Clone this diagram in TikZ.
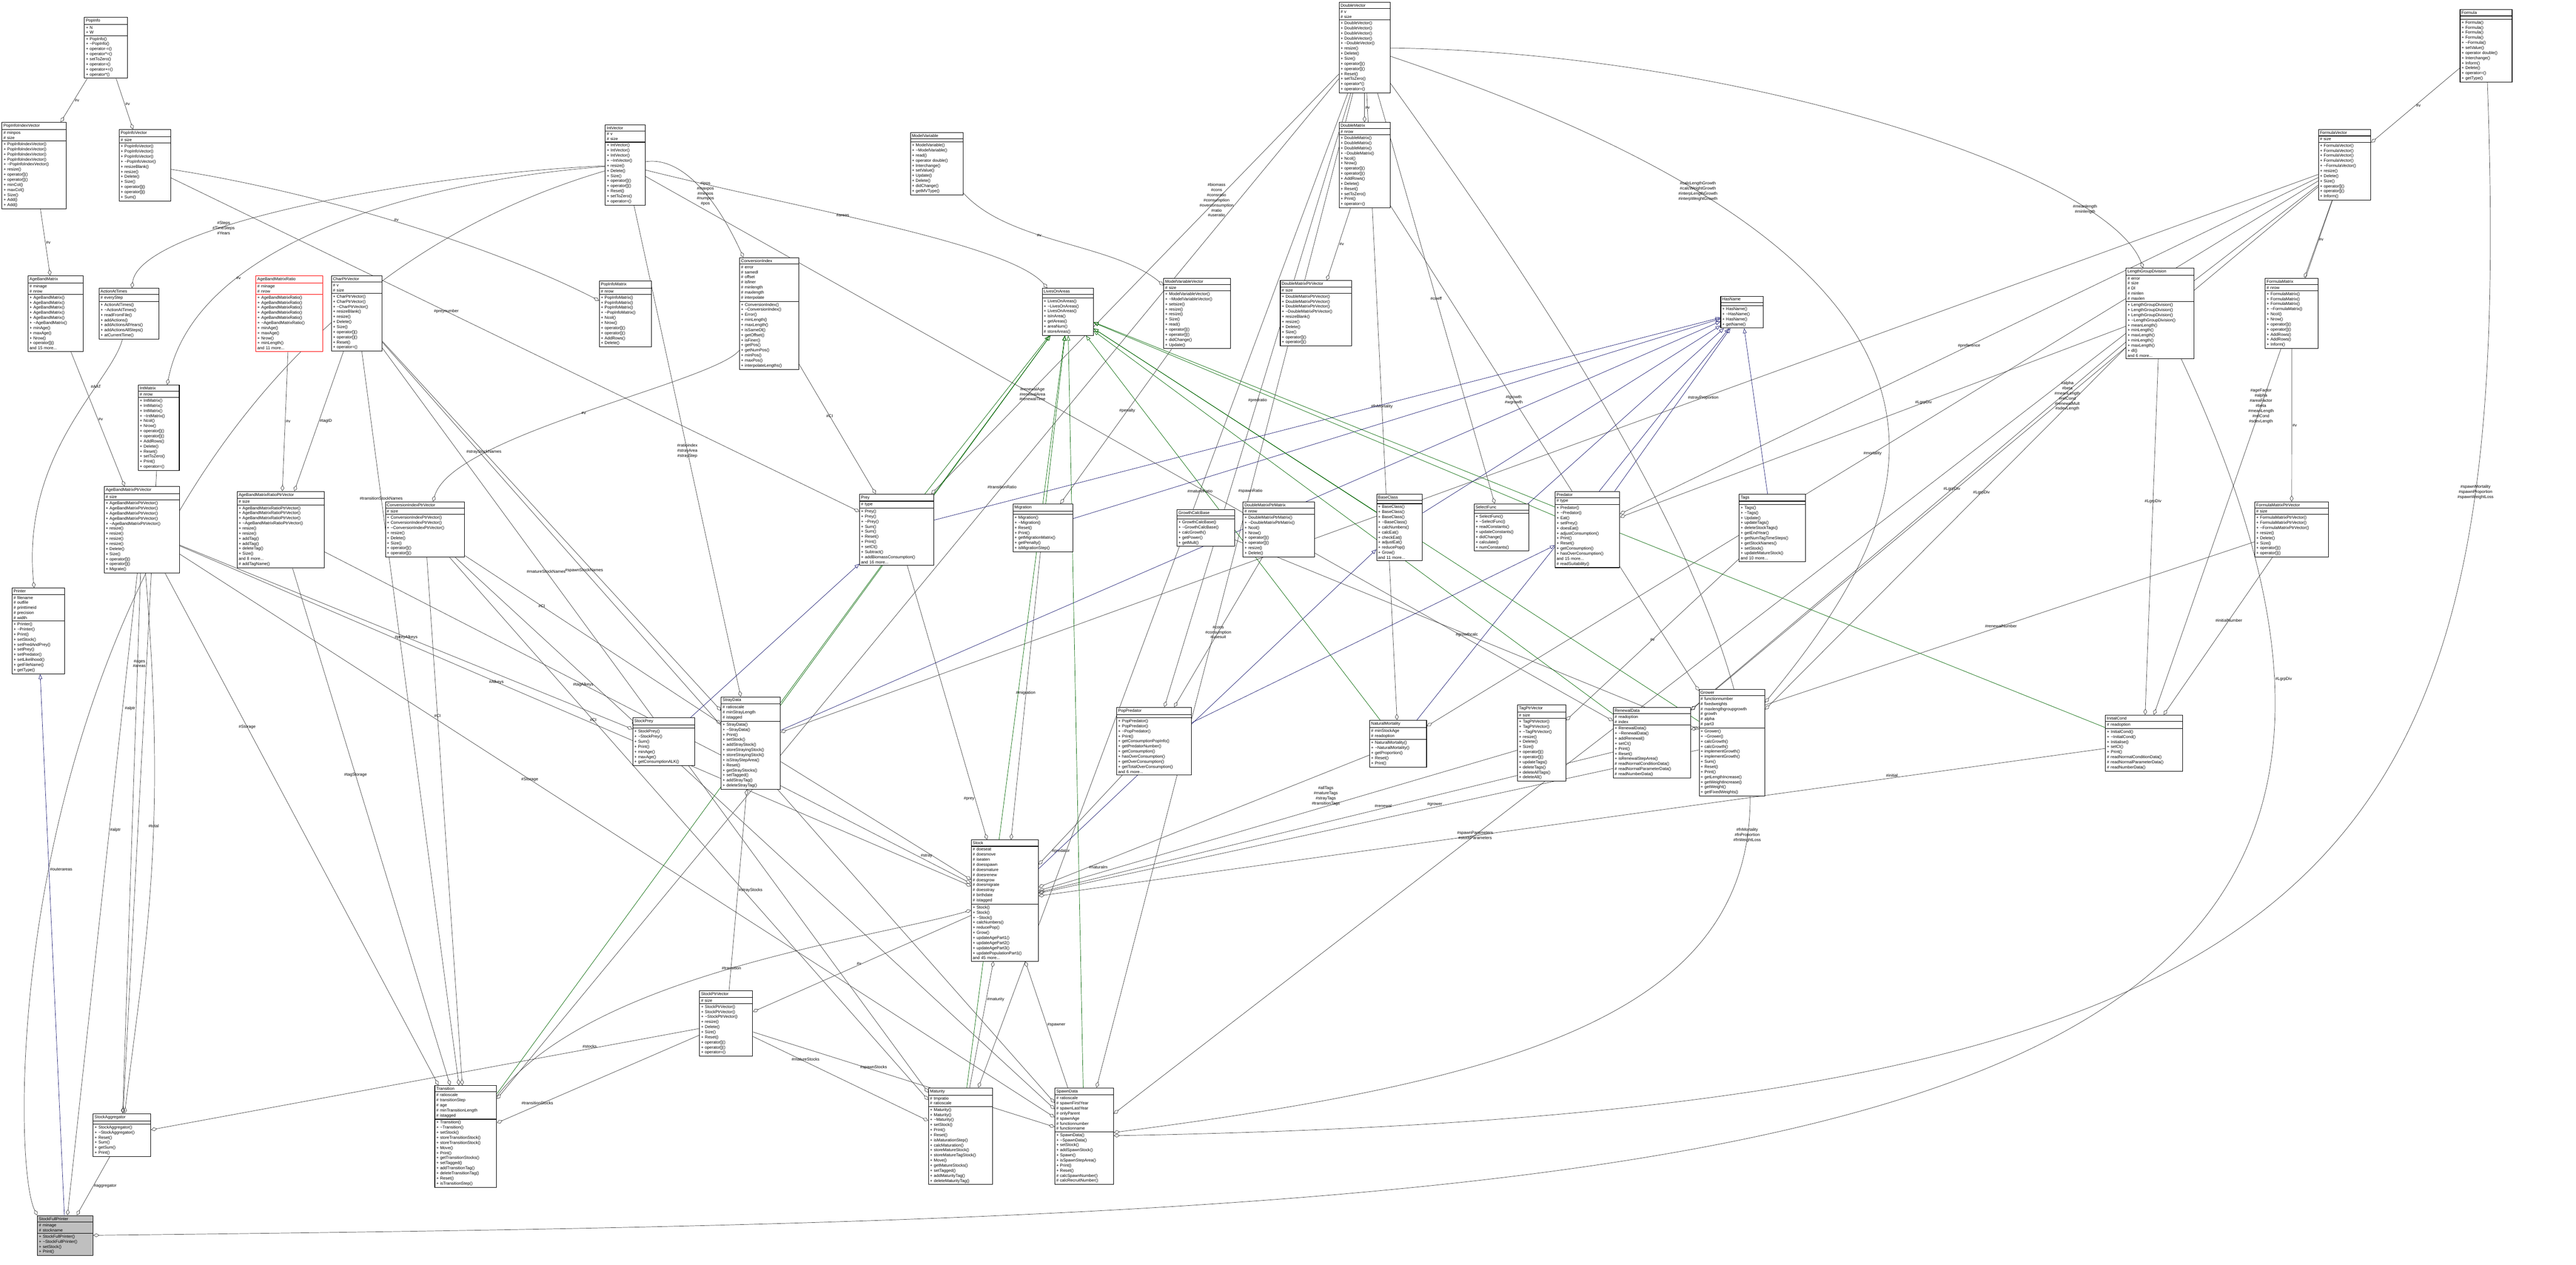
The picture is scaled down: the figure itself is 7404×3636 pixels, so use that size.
\documentclass[tikz,border=0pt]{standalone}
\usepackage{fontspec}
\setmainfont{Liberation Sans}
\usetikzlibrary{arrows.meta,shapes.multipart,backgrounds}
\definecolor{edgegray}{HTML}{404040}
\definecolor{inhblue}{HTML}{191970}
\definecolor{protgreen}{HTML}{006400}
\newcommand{\tld}{\textasciitilde}
\tikzset{
    cls/.style={rectangle split,rectangle split parts=3,draw=black,line width=0.45pt,anchor=north west,
        font=\fontsize{3.4}{4.15}\selectfont,inner xsep=1.2pt,inner ysep=1.1pt,align=left,
        rectangle split part align={center,left,left},fill=white},
    agg/.style={draw=edgegray,line width=0.3pt,{Diamond[open,length=5pt,width=3pt]}-},
    inh/.style={draw=inhblue,line width=0.3pt,-{Triangle[open,length=4pt,width=3pt]}},
    pinh/.style={draw=protgreen,line width=0.3pt,-{Triangle[open,length=4pt,width=3pt]}},
    elabel/.style={font=\fontsize{3.4}{4.15}\selectfont,align=center,inner sep=0.5pt},
}
\begin{document}
\begin{tikzpicture}[x=0.01cm,y=-0.01cm]
    \useasboundingbox (0,0) rectangle (7404,3636);
    % top rows
    \node[cls,text width=1.15cm] (popinfo) at (242,49) {PopInfo\nodepart{two}+ N\\+ W\nodepart{three}+ PopInfo()\\+ \tld PopInfo()\\+ operator-=()\\+ operator*=()\\+ setToZero()\\+ operator=()\\+ operator+=()\\+ operator*()};
    \node[cls,text width=1.76cm] (popidx) at (5,351) {PopInfoIndexVector\nodepart{two}\# minpos\\\# size\nodepart{three}+ PopInfoIndexVector()\\+ PopInfoIndexVector()\\+ PopInfoIndexVector()\\+ PopInfoIndexVector()\\+ \tld PopInfoIndexVector()\\+ resize()\\+ operator[]()\\+ operator[]()\\+ minCol()\\+ maxCol()\\+ Size()\\+ Add()\\+ Add()};
    \node[cls,text width=1.39cm] (popvec) at (342,372) {PopInfoVector\nodepart{two}\# size\nodepart{three}+ PopInfoVector()\\+ PopInfoVector()\\+ PopInfoVector()\\+ \tld PopInfoVector()\\+ resizeBlank()\\+ resize()\\+ Delete()\\+ Size()\\+ operator[]()\\+ operator[]()\\+ Sum()};
    \node[cls,text width=1.06cm] (intvec) at (1739,358) {IntVector\nodepart{two}\# v\\\# size\nodepart{three}+ IntVector()\\+ IntVector()\\+ IntVector()\\+ \tld IntVector()\\+ resize()\\+ Delete()\\+ Size()\\+ operator[]()\\+ operator[]()\\+ Reset()\\+ setToZero()\\+ operator=()};
    \node[cls,text width=1.50cm] (abm) at (80,792) {AgeBandMatrix\nodepart{two}\# minage\\\# nrow\nodepart{three}+ AgeBandMatrix()\\+ AgeBandMatrix()\\+ AgeBandMatrix()\\+ AgeBandMatrix()\\+ AgeBandMatrix()\\+ \tld AgeBandMatrix()\\+ minAge()\\+ maxAge()\\+ Nrow()\\+ operator[]()\\and 15 more...};
    \node[cls,text width=1.63cm] (aat) at (284,828) {ActionAtTimes\nodepart{two}\# everyStep\nodepart{three}+ ActionAtTimes()\\+ \tld ActionAtTimes()\\+ readFromFile()\\+ addActions()\\+ addActionsAllYears()\\+ addActionsAllSteps()\\+ atCurrentTime()};
    \node[cls,draw=red,text width=1.84cm] (abmr) at (735,792) {AgeBandMatrixRatio\nodepart{two}\# minage\\\# nrow\nodepart{three}+ AgeBandMatrixRatio()\\+ AgeBandMatrixRatio()\\+ AgeBandMatrixRatio()\\+ AgeBandMatrixRatio()\\+ AgeBandMatrixRatio()\\+ \tld AgeBandMatrixRatio()\\+ minAge()\\+ maxAge()\\+ Nrow()\\+ minLength()\\and 11 more...};
    \node[cls,text width=1.37cm] (charvec) at (952,792) {CharPtrVector\nodepart{two}\# v\\\# size\nodepart{three}+ CharPtrVector()\\+ CharPtrVector()\\+ \tld CharPtrVector()\\+ resizeBlank()\\+ resize()\\+ Delete()\\+ Size()\\+ operator[]()\\+ operator[]()\\+ Reset()\\+ operator=()};
    \node[cls,text width=1.41cm] (popmat) at (1722,807) {PopInfoMatrix\nodepart{two}\# nrow\nodepart{three}+ PopInfoMatrix()\\+ PopInfoMatrix()\\+ PopInfoMatrix()\\+ \tld PopInfoMatrix()\\+ Ncol()\\+ Nrow()\\+ operator[]()\\+ operator[]()\\+ AddRows()\\+ Delete()};
    \node[cls,text width=1.43cm] (modvar) at (2616,380) {ModelVariable\nodepart{two}\mbox{}\nodepart{three}+ ModelVariable()\\+ \tld ModelVariable()\\+ read()\\+ operator double()\\+ Interchange()\\+ setValue()\\+ Update()\\+ Delete()\\+ didChange()\\+ getMVType()};
    \node[cls,text width=1.61cm] (convidx) at (2125,740) {ConversionIndex\nodepart{two}\# error\\\# samedl\\\# offset\\\# isfiner\\\# minlength\\\# maxlength\\\# interpolate\nodepart{three}+ ConversionIndex()\\+ \tld ConversionIndex()\\+ Error()\\+ minLength()\\+ maxLength()\\+ isSameDl()\\+ getOffset()\\+ isFiner()\\+ getPos()\\+ getNumPos()\\+ minPos()\\+ maxPos()\\+ interpolateLengths()};
    \node[cls,text width=1.38cm] (lives) at (2995,828) {LivesOnAreas\nodepart{two}\mbox{}\nodepart{three}+ LivesOnAreas()\\+ \tld LivesOnAreas()\\+ LivesOnAreas()\\+ isInArea()\\+ getAreas()\\+ areaNum()\\\# storeAreas()};
    \node[cls,text width=1.84cm] (modvarvec) at (3344,799) {ModelVariableVector\nodepart{two}\# size\nodepart{three}+ ModelVariableVector()\\+ \tld ModelVariableVector()\\+ setsize()\\+ resize()\\+ resize()\\+ Size()\\+ read()\\+ operator[]()\\+ operator[]()\\+ didChange()\\+ Update()};
    \node[cls,text width=1.97cm] (dmpv) at (3679,806) {DoubleMatrixPtrVector\nodepart{two}\# size\nodepart{three}+ DoubleMatrixPtrVector()\\+ DoubleMatrixPtrVector()\\+ DoubleMatrixPtrVector()\\+ \tld DoubleMatrixPtrVector()\\+ resizeBlank()\\+ resize()\\+ Delete()\\+ Size()\\+ operator[]()\\+ operator[]()};
    \node[cls,text width=1.38cm] (dblvec) at (3848,6) {DoubleVector\nodepart{two}\# v\\\# size\nodepart{three}+ DoubleVector()\\+ DoubleVector()\\+ DoubleVector()\\+ DoubleVector()\\+ \tld DoubleVector()\\+ resize()\\+ Delete()\\+ Size()\\+ operator[]()\\+ operator[]()\\+ Reset()\\+ setToZero()\\+ operator*()\\+ operator=()};
    \node[cls,text width=1.38cm] (dblmat) at (3848,351) {DoubleMatrix\nodepart{two}\# nrow\nodepart{three}+ DoubleMatrix()\\+ DoubleMatrix()\\+ DoubleMatrix()\\+ \tld DoubleMatrix()\\+ Ncol()\\+ Nrow()\\+ operator[]()\\+ operator[]()\\+ AddRows()\\+ Delete()\\+ Reset()\\+ setToZero()\\+ Print()\\+ operator=()};
    \node[cls,text width=1.13cm] (hasname) at (4945,851) {HasName\nodepart{two}\mbox{}\nodepart{three}+ HasName()\\+ \tld HasName()\\+ HasName()\\+ getName()};
    \node[cls,text width=1.41cm] (formula) at (7070,27) {Formula\nodepart{two}\mbox{}\nodepart{three}+ Formula()\\+ Formula()\\+ Formula()\\+ Formula()\\+ \tld Formula()\\+ setValue()\\+ operator double()\\+ Interchange()\\+ Inform()\\+ Delete()\\+ operator=()\\+ getType()};
    \node[cls,text width=1.42cm] (formvec) at (6663,372) {FormulaVector\nodepart{two}\# size\nodepart{three}+ FormulaVector()\\+ FormulaVector()\\+ FormulaVector()\\+ FormulaVector()\\+ \tld FormulaVector()\\+ resize()\\+ Delete()\\+ Size()\\+ operator[]()\\+ operator[]()\\+ Inform()};
    \node[cls,text width=1.86cm] (lgdiv) at (6110,770) {LengthGroupDivision\nodepart{two}\# error\\\# size\\\# Dl\\\# minlen\\\# maxlen\nodepart{three}+ LengthGroupDivision()\\+ LengthGroupDivision()\\+ LengthGroupDivision()\\+ \tld LengthGroupDivision()\\+ meanLength()\\+ minLength()\\+ maxLength()\\+ minLength()\\+ maxLength()\\+ dl()\\and 6 more...};
    \node[cls,text width=1.44cm] (formmat) at (6510,799) {FormulaMatrix\nodepart{two}\# nrow\nodepart{three}+ FormulaMatrix()\\+ FormulaMatrix()\\+ FormulaMatrix()\\+ \tld FormulaMatrix()\\+ Ncol()\\+ Nrow()\\+ operator[]()\\+ operator[]()\\+ AddRows()\\+ AddRows()\\+ Inform()};
    % middle rows
    \node[cls,text width=1.09cm] (intmat) at (397,1106) {IntMatrix\nodepart{two}\# nrow\nodepart{three}+ IntMatrix()\\+ IntMatrix()\\+ IntMatrix()\\+ \tld IntMatrix()\\+ Ncol()\\+ Nrow()\\+ operator[]()\\+ operator[]()\\+ AddRows()\\+ Delete()\\+ Reset()\\+ setToZero()\\+ Print()\\+ operator=()};
    \node[cls,text width=2.08cm] (abmpv) at (299,1398) {AgeBandMatrixPtrVector\nodepart{two}\# size\nodepart{three}+ AgeBandMatrixPtrVector()\\+ AgeBandMatrixPtrVector()\\+ AgeBandMatrixPtrVector()\\+ AgeBandMatrixPtrVector()\\+ \tld AgeBandMatrixPtrVector()\\+ resize()\\+ resize()\\+ resize()\\+ resize()\\+ Delete()\\+ Size()\\+ operator[]()\\+ operator[]()\\+ Migrate()};
    \node[cls,text width=2.42cm] (abmrpv) at (681,1412) {AgeBandMatrixRatioPtrVector\nodepart{two}\# size\nodepart{three}+ AgeBandMatrixRatioPtrVector()\\+ AgeBandMatrixRatioPtrVector()\\+ AgeBandMatrixRatioPtrVector()\\+ \tld AgeBandMatrixRatioPtrVector()\\+ resize()\\+ resize()\\+ addTag()\\+ addTag()\\+ deleteTag()\\+ Size()\\and 8 more...\\\# addTagName()};
    \node[cls,text width=2.19cm] (cipv) at (1107,1442) {ConversionIndexPtrVector\nodepart{two}\# size\nodepart{three}+ ConversionIndexPtrVector()\\+ ConversionIndexPtrVector()\\+ \tld ConversionIndexPtrVector()\\+ resize()\\+ Delete()\\+ Size()\\+ operator[]()\\+ operator[]()};
    \node[cls,text width=1.42cm] (printer) at (34,1690) {Printer\nodepart{two}\# filename\\\# outfile\\\# printtimeid\\\# precision\\\# width\nodepart{three}+ Printer()\\+ \tld Printer()\\+ Print()\\+ setStock()\\+ setPredAndPrey()\\+ setPrey()\\+ setPredator()\\+ setLikelihood()\\+ getFileName()\\+ getType()};
    \node[cls,text width=1.70cm] (stockprey) at (1818,2063) {StockPrey\nodepart{two}\mbox{}\nodepart{three}+ StockPrey()\\+ \tld StockPrey()\\+ Sum()\\+ Print()\\+ minAge()\\+ maxAge()\\+ getConsumptionALK()};
    \node[cls,text width=2.05cm] (prey) at (2470,1420) {Prey\nodepart{two}\# type\nodepart{three}+ Prey()\\+ Prey()\\+ \tld Prey()\\+ Sum()\\+ Sum()\\+ Reset()\\+ Print()\\+ setCI()\\+ Subtract()\\+ addBiomassConsumption()\\and 16 more...};
    \node[cls,text width=1.63cm] (migration) at (2911,1448) {Migration\nodepart{two}\mbox{}\nodepart{three}+ Migration()\\+ \tld Migration()\\+ Reset()\\+ Print()\\+ getMigrationMatrix()\\+ getPenalty()\\+ isMigrationStep()};
    \node[cls,text width=1.57cm] (growcalc) at (3382,1464) {GrowthCalcBase\nodepart{two}\mbox{}\nodepart{three}+ GrowthCalcBase()\\+ \tld GrowthCalcBase()\\+ calcGrowth()\\+ getPower()\\+ getMult()};
    \node[cls,text width=1.97cm] (dmpm) at (3572,1442) {DoubleMatrixPtrMatrix\nodepart{two}\# nrow\nodepart{three}+ DoubleMatrixPtrMatrix()\\+ \tld DoubleMatrixPtrMatrix()\\+ Ncol()\\+ Nrow()\\+ operator[]()\\+ operator[]()\\+ resize()\\+ Delete()};
    \node[cls,text width=1.23cm] (baseclass) at (3956,1420) {BaseClass\nodepart{two}\mbox{}\nodepart{three}+ BaseClass()\\+ BaseClass()\\+ BaseClass()\\+ \tld BaseClass()\\+ calcNumbers()\\+ calcEat()\\+ checkEat()\\+ adjustEat()\\+ reducePop()\\+ Grow()\\and 11 more...};
    \node[cls,text width=1.49cm] (selfunc) at (4236,1448) {SelectFunc\nodepart{two}\mbox{}\nodepart{three}+ SelectFunc()\\+ \tld SelectFunc()\\+ readConstants()\\+ updateConstants()\\+ didChange()\\+ calculate()\\+ numConstants()};
    \node[cls,text width=1.77cm] (predator) at (4469,1412) {Predator\nodepart{two}\# type\nodepart{three}+ Predator()\\+ \tld Predator()\\+ Eat()\\+ setPrey()\\+ doesEat()\\+ adjustConsumption()\\+ Print()\\+ Reset()\\+ getConsumption()\\+ hasOverConsumption()\\and 15 more...\\\# readSuitability()};
    \node[cls,text width=1.82cm] (tags) at (4998,1420) {Tags\nodepart{two}\mbox{}\nodepart{three}+ Tags()\\+ \tld Tags()\\+ Update()\\+ updateTags()\\+ deleteStockTags()\\+ getEndYear()\\+ getNumTagTimeSteps()\\+ getStockNames()\\+ setStock()\\+ updateMatureStock()\\and 10 more...};
    \node[cls,text width=2.03cm] (fmpv) at (6480,1442) {FormulaMatrixPtrVector\nodepart{two}\# size\nodepart{three}+ FormulaMatrixPtrVector()\\+ FormulaMatrixPtrVector()\\+ \tld FormulaMatrixPtrVector()\\+ resize()\\+ Delete()\\+ Size()\\+ operator[]()\\+ operator[]()};
    \node[cls,text width=1.62cm] (straydata) at (2072,2003) {StrayData\nodepart{two}\# ratioscale\\\# minStrayLength\\\# istagged\nodepart{three}+ StrayData()\\+ \tld StrayData()\\+ Print()\\+ setStock()\\+ addStrayStock()\\+ storeStrayingStock()\\+ storeStrayingStock()\\+ isStrayStepArea()\\+ Reset()\\+ getStrayStocks()\\+ setTagged()\\+ addStrayTag()\\+ deleteStrayTag()};
    \node[cls,text width=2.06cm] (poppred) at (3209,2033) {PopPredator\nodepart{two}\mbox{}\nodepart{three}+ PopPredator()\\+ PopPredator()\\+ \tld PopPredator()\\+ Print()\\+ getConsumptionPopInfo()\\+ getPredatorNumber()\\+ getConsumption()\\+ hasOverConsumption()\\+ getOverConsumption()\\+ getTotalOverConsumption()\\and 6 more...};
    \node[cls,text width=1.55cm] (natmort) at (3936,2070) {NaturalMortality\nodepart{two}\# minStockAge\\\# readoption\nodepart{three}+ NaturalMortality()\\+ \tld NaturalMortality()\\+ getProportion()\\+ Reset()\\+ Print()};
    \node[cls,text width=1.30cm] (tagpv) at (4361,2026) {TagPtrVector\nodepart{two}\# size\nodepart{three}+ TagPtrVector()\\+ TagPtrVector()\\+ \tld TagPtrVector()\\+ resize()\\+ Delete()\\+ Size()\\+ operator[]()\\+ operator[]()\\+ updateTags()\\+ deleteTags()\\+ deleteAllTags()\\+ deleteAll()};
    \node[cls,text width=2.14cm] (renewal) at (4636,2033) {RenewalData\nodepart{two}\# readoption\\\# index\nodepart{three}+ RenewalData()\\+ \tld RenewalData()\\+ addRenewal()\\+ setCI()\\+ Print()\\+ Reset()\\+ isRenewalStepArea()\\\# readNormalConditionData()\\\# readNormalParameterData()\\\# readNumberData()};
    \node[cls,text width=1.80cm] (grower) at (4883,1981) {Grower\nodepart{two}\# functionnumber\\\# fixedweights\\\# maxlengthgroupgrowth\\\# growth\\\# alpha\\\# part3\nodepart{three}+ Grower()\\+ \tld Grower()\\+ calcGrowth()\\+ calcGrowth()\\+ implementGrowth()\\+ implementGrowth()\\+ Sum()\\+ Reset()\\+ Print()\\+ getLengthIncrease()\\+ getWeightIncrease()\\+ getWeight()\\+ getFixedWeights()};
    \node[cls,text width=2.13cm] (initcond) at (6051,2055) {InitialCond\nodepart{two}\# readoption\nodepart{three}+ InitialCond()\\+ \tld InitialCond()\\+ Initialise()\\+ setCI()\\+ Print()\\\# readNormalConditionData()\\\# readNormalParameterData()\\\# readNumberData()};
    % bottom rows
    \node[cls,text width=1.84cm] (stock) at (2791,2414) {Stock\nodepart{two}\# doeseat\\\# doesmove\\\# iseaten\\\# doesspawn\\\# doesmature\\\# doesrenew\\\# doesgrow\\\# doesmigrate\\\# doesstray\\\# birthdate\\\# istagged\nodepart{three}+ Stock()\\+ Stock()\\+ \tld Stock()\\+ calcNumbers()\\+ reducePop()\\+ Grow()\\+ updateAgePart1()\\+ updateAgePart2()\\+ updateAgePart3()\\+ updatePopulationPart1()\\and 45 more...};
    \node[cls,text width=1.44cm] (stockpv) at (2010,2848) {StockPtrVector\nodepart{two}\# size\nodepart{three}+ StockPtrVector()\\+ StockPtrVector()\\+ \tld StockPtrVector()\\+ resize()\\+ Delete()\\+ Size()\\+ Reset()\\+ operator[]()\\+ operator[]()\\+ operator=()};
    \node[cls,text width=1.75cm] (maturity) at (2668,3127) {Maturity\nodepart{two}\# tmpratio\\\# ratioscale\nodepart{three}+ Maturity()\\+ Maturity()\\+ \tld Maturity()\\+ setStock()\\+ Print()\\+ Reset()\\+ isMaturationStep()\\+ calcMaturation()\\+ storeMatureStock()\\+ storeMatureTagStock()\\+ Move()\\+ getMatureStocks()\\+ setTagged()\\+ addMaturityTag()\\+ deleteMaturityTag()};
    \node[cls,text width=1.60cm] (spawn) at (3031,3127) {SpawnData\nodepart{two}\# ratioscale\\\# spawnFirstYear\\\# spawnLastYear\\\# onlyParent\\\# spawnAge\\\# functionnumber\\\# functionname\nodepart{three}+ SpawnData()\\+ \tld SpawnData()\\+ setStock()\\+ addSpawnStock()\\+ Spawn()\\+ isSpawnStepArea()\\+ Print()\\+ Reset()\\\# calcSpawnNumber()\\\# calcRecruitNumber()};
    \node[cls,text width=1.57cm] (stockagg) at (267,3201) {StockAggregator\nodepart{two}\mbox{}\nodepart{three}+ StockAggregator()\\+ \tld StockAggregator()\\+ Reset()\\+ Sum()\\+ getSum()\\+ Print()};
    \node[cls,text width=1.69cm] (transition) at (1249,3120) {Transition\nodepart{two}\# ratioscale\\\# transitionStep\\\# age\\\# minTransitionLength\\\# istagged\nodepart{three}+ Transition()\\+ \tld Transition()\\+ setStock()\\+ storeTransitionStock()\\+ storeTransitionStock()\\+ Move()\\+ Print()\\+ getTransitionStocks()\\+ setTagged()\\+ addTransitionTag()\\+ deleteTransitionTag()\\+ Reset()\\+ isTransitionStep()};
    \node[cls,text width=1.51cm,fill=black!25] (sfp) at (107,3494) {StockFullPrinter\nodepart{two}\# minage\\\# stockname\nodepart{three}+ StockFullPrinter()\\+ \tld StockFullPrinter()\\+ setStock()\\+ Print()};

    % members (diamond at the owning class)
    \begin{scope}[on background layer]
    \draw[agg] (popidx) -- node[elabel,right]{\#v} (popinfo);
    \draw[agg] (popvec) -- node[elabel,right]{\#v} (popinfo);
    \draw[agg] (abm) -- node[elabel,right]{\#v} (popidx);
    \draw[agg] (popmat) .. controls (1400,700) and (900,550) .. node[elabel,above]{\#v} (popvec);
    \draw[agg] (aat) .. controls (400,650) and (1200,500) .. node[elabel,pos=0.35]{\#Steps\\\#TimeSteps\\\#Years} (intvec);
    \draw[agg] (intmat) .. controls (560,700) and (1200,520) .. node[elabel,pos=0.3]{\#v} (intvec);
    \draw[agg] (abmpv) -- node[elabel,right]{\#v} (abm);
    \draw[agg] (abmrpv) -- node[elabel,right]{\#v} (abmr);
    \draw[agg] (abmrpv) -- node[elabel,right]{\#tagID} (charvec);
    \draw[agg] (dblmat) -- node[elabel,right]{\#v} (dblvec);
    \draw[agg] (dmpv) -- node[elabel,right]{\#v} (dblmat);
    \draw[agg] (formvec) -- node[elabel,right]{\#v} (formula);
    \draw[agg] (formmat) -- node[elabel,right]{\#v} (formvec);
    \draw[agg] (fmpv) -- node[elabel,right]{\#v} (formmat);
    \draw[agg] (lgdiv) .. controls (6060,500) and (5000,150) .. node[elabel,pos=0.2]{\#meanlength\\\#minlength} (dblvec);
    \draw[agg] (convidx) .. controls (2050,550) and (1950,450) .. node[elabel,pos=0.4]{\#ipos\\\#maxpos\\\#minpos\\\#numpos\\\#pos} (intvec);
    \draw[agg] (cipv) .. controls (1300,1250) and (2050,1100) .. node[elabel,pos=0.5]{\#v} (convidx);
    \draw[agg] (modvarvec) .. controls (3200,700) and (2900,700) .. node[elabel,pos=0.6]{\#v} (modvar);
    \draw[agg] (lives) .. controls (2900,700) and (2300,600) .. node[elabel,pos=0.6]{\#areas} (intvec);
    \draw[agg] (printer) .. controls (60,1300) and (320,1100) .. node[elabel,pos=0.7]{\#AAT} (aat);
    \draw[agg] (stockagg) -- node[elabel,pos=0.7,left]{\#ages\\\#areas} (intmat);
    \draw[agg] (stockagg) -- node[elabel,pos=0.75,left]{\#alptr} (abmpv);
    \draw[agg] (stockagg) .. controls (420,2700) and (480,2400) .. node[elabel,pos=0.6]{\#total} (abmpv);
    \draw[agg] (sfp) -- node[elabel,pos=0.6,right]{\#alptr} (abmpv);
    \draw[agg] (sfp.north west) .. controls (10,3300) and (10,1000) .. node[elabel,pos=0.4,right]{\#outerareas} (intvec);
    \draw[agg] (sfp) -- node[elabel,right]{\#aggregator} (stockagg);
    \draw[agg] (sfp) .. controls (5000,3500) and (7380,3400) .. node[elabel,pos=0.85,right]{\#LgrpDiv} (lgdiv);
    \draw[agg] (stockpv) -- node[elabel,left]{\#v} (stock);
    \draw[agg] (stockagg) -- node[elabel,pos=0.8,above]{\#stocks} (stockpv);
    \draw[agg] (transition) -- node[elabel,pos=0.2,above]{\#transitionStocks} (stockpv);
    \draw[agg] (maturity) -- node[elabel,pos=0.7,above]{\#matureStocks} (stockpv);
    \draw[agg] (spawn) -- node[elabel,pos=0.6,above]{\#spawnStocks} (stockpv);
    \draw[agg] (straydata) -- node[elabel,right]{\#strayStocks} (stockpv);
    \draw[agg] (stock) -- node[elabel,pos=0.3,right]{\#maturity} (maturity);
    \draw[agg] (stock) -- node[elabel,pos=0.5,right]{\#spawner} (spawn);
    \draw[agg] (stock) .. controls (2500,2700) and (1700,2800) .. node[elabel,pos=0.5]{\#transition} (transition);
    \draw[agg] (stock) -- node[elabel,pos=0.15,left]{\#prey} (prey);
    \draw[agg] (stock) -- node[elabel,pos=0.2,left]{\#stray} (straydata);
    \draw[agg] (stock) -- node[elabel,pos=0.15,right]{\#predator} (poppred);
    \draw[agg] (stock) -- node[elabel,pos=0.15,right]{\#naturalm} (natmort);
    \draw[agg] (stock) -- node[elabel,pos=0.5,above]{\#migration} (migration);
    \draw[agg] (stock) -- node[elabel,pos=0.6,above]{\#grower} (grower);
    \draw[agg] (stock) -- node[elabel,pos=0.6,above]{\#renewal} (renewal);
    \draw[agg] (stock) -- node[elabel,pos=0.8,above]{\#initial} (initcond);
    \draw[agg] (stock) -- node[elabel,pos=0.6,above]{\#allTags\\\#matureTags\\\#strayTags\\\#transitionTags} (tagpv);
    \draw[agg] (stock) -- node[elabel,pos=0.6]{\#Alkeys} (abmpv);
    \draw[agg] (stock) -- node[elabel,pos=0.6]{\#tagAlkeys} (abmrpv);
    \draw[agg] (transition) -- node[elabel,pos=0.7]{\#CI} (cipv);
    \draw[agg] (maturity) -- node[elabel,pos=0.7]{\#CI} (cipv);
    \draw[agg] (spawn) -- node[elabel,pos=0.7]{\#CI} (cipv);
    \draw[agg] (straydata) -- node[elabel,pos=0.7]{\#CI} (cipv);
    \draw[agg] (transition) -- node[elabel,pos=0.7]{\#Storage} (abmpv);
    \draw[agg] (transition) -- node[elabel,pos=0.6]{\#tagStorage} (abmrpv);
    \draw[agg] (spawn) -- node[elabel,pos=0.6]{\#Storage} (abmpv);
    \draw[agg] (transition) -- node[elabel,pos=0.8]{\#transitionStockNames} (charvec);
    \draw[agg] (maturity) -- node[elabel,pos=0.7]{\#matureStockNames} (charvec);
    \draw[agg] (spawn) -- node[elabel,pos=0.7]{\#spawnStockNames} (charvec);
    \draw[agg] (straydata) -- node[elabel,pos=0.7]{\#strayStockNames} (charvec);
    \draw[agg] (prey) -- node[elabel,pos=0.6]{\#CI} (convidx);
    \draw[agg] (prey) -- node[elabel,pos=0.7]{\#biomass\\\#cons\\\#consratio\\\#consumption\\\#overconsumption\\\#ratio\\\#useratio} (dblvec);
    \draw[agg] (prey) -- node[elabel,pos=0.6]{\#preynumber} (popvec);
    \draw[agg] (stockprey) -- node[elabel,pos=0.5]{\#preyAlkeys} (abmpv);
    \draw[agg] (migration) -- node[elabel,pos=0.6]{\#penalty} (modvarvec);
    \draw[agg] (grower) -- node[elabel,pos=0.5]{\#growthcalc} (growcalc);
    \draw[agg] (grower) -- node[elabel,pos=0.6]{\#lgrowth\\\#wgrowth} (dblmat);
    \draw[agg] (grower) -- node[elabel,pos=0.6]{\#LgrpDiv} (lgdiv);
    \draw[agg] (grower) .. controls (5500,1500) and (5900,800) .. node[elabel,pos=0.8]{\#calcLengthGrowth\\\#calcWeightGrowth\\\#interpLengthGrowth\\\#interpWeightGrowth} (dblvec);
    \draw[agg] (natmort) -- node[elabel,pos=0.5]{\#mortality} (formvec);
    \draw[agg] (natmort) -- node[elabel,pos=0.5]{\#fnMortality} (dblvec);
    \draw[agg] (tagpv) -- node[elabel,pos=0.5]{\#v} (tags);
    \draw[agg] (predator) -- node[elabel,pos=0.5]{\#preference} (formvec);
    \draw[agg] (predator) -- node[elabel,pos=0.6]{\#LgrpDiv} (lgdiv);
    \draw[agg] (poppred) -- node[elabel,pos=0.5]{\#cons\\\#consumption\\\#usesuit} (dmpm);
    \draw[agg] (poppred) -- node[elabel,pos=0.5]{\#predratio} (dblvec);
    \draw[agg] (selfunc) -- node[elabel,pos=0.5]{\#coeff} (dblvec);
    \draw[agg] (initcond) -- node[elabel,pos=0.6]{\#initialNumber} (fmpv);
    \draw[agg] (initcond) -- node[elabel,pos=0.6]{\#LgrpDiv} (lgdiv);
    \draw[agg] (initcond) -- node[elabel,pos=0.6]{\#ageFactor\\\#alpha\\\#areaFactor\\\#beta\\\#meanLength\\\#relCond\\\#sdevLength} (formvec);
    \draw[agg] (renewal) -- node[elabel,pos=0.55]{\#renewalNumber} (fmpv);
    \draw[agg] (renewal) -- node[elabel,pos=0.6]{\#LgrpDiv} (lgdiv);
    \draw[agg] (renewal) -- node[elabel,pos=0.6]{\#alpha\\\#beta\\\#meanLength\\\#relCond\\\#renewalMult\\\#sdevLength} (formvec);
    \draw[agg] (renewal) -- node[elabel,pos=0.6]{\#renewalAge\\\#renewalArea\\\#renewalTime} (intvec);
    \draw[agg] (spawn) .. controls (6800,3200) and (7230,2500) .. node[elabel,pos=0.8]{\#spawnMortality\\\#spawnProportion\\\#spawnWeightLoss} (formula);
    \draw[agg] (spawn) .. controls (5200,3000) and (5700,2600) .. node[elabel,pos=0.55]{\#fnMortality\\\#fnProportion\\\#fnWeightLoss} (dblvec);
    \draw[agg] (spawn) -- node[elabel,pos=0.3]{\#spawnParameters\\\#stockParameters} (formvec);
    \draw[agg] (transition) -- node[elabel,pos=0.6]{\#transitionRatio} (dblvec);
    \draw[agg] (maturity) -- node[elabel,pos=0.6]{\#matureRatio} (dblvec);
    \draw[agg] (spawn) -- node[elabel,pos=0.6]{\#spawnRatio} (dblvec);
    \draw[agg] (straydata) -- node[elabel,pos=0.6]{\#strayProportion} (formvec);
    \draw[agg] (straydata) -- node[elabel,pos=0.5]{\#ratioindex\\\#strayArea\\\#strayStep} (intvec);
    % inheritance
    \draw[inh] (sfp) -- (printer);
    \draw[inh] (stockprey) -- (prey);
    \draw[inh] (poppred) -- (predator);
    \draw[inh] (stock) -- (baseclass);
    \draw[inh] (baseclass) -- (hasname);
    \draw[inh] (prey) -- (hasname);
    \draw[inh] (predator) -- (hasname);
    \draw[inh] (tags) -- (hasname);
    \draw[inh] (migration) -- (hasname);
    \draw[inh] (selfunc) -- (hasname);
    \draw[inh] (natmort) -- (hasname);
    \draw[inh] (straydata) -- (hasname);
    \draw[pinh] (baseclass) -- (lives);
    \draw[pinh] (prey) -- (lives);
    \draw[pinh] (predator) -- (lives);
    \draw[pinh] (migration) -- (lives);
    \draw[pinh] (natmort) -- (lives);
    \draw[pinh] (grower) -- (lives);
    \draw[pinh] (renewal) -- (lives);
    \draw[pinh] (initcond) -- (lives);
    \draw[pinh] (straydata) -- (lives);
    \draw[pinh] (transition) -- (lives);
    \draw[pinh] (maturity) -- (lives);
    \draw[pinh] (spawn) -- (lives);
    \end{scope}
\end{tikzpicture}
\end{document}
